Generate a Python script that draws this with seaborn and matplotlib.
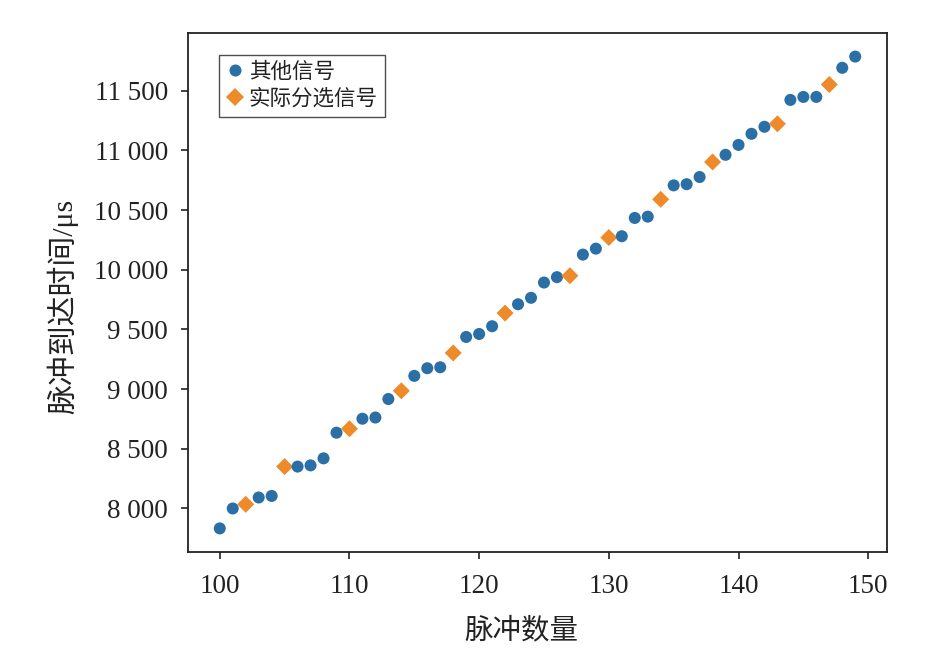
import matplotlib
matplotlib.use("Agg")
import matplotlib.pyplot as plt
import seaborn as sns
import pandas as pd
from matplotlib.ticker import FuncFormatter, MultipleLocator

pulse_no = list(range(100, 150))
arrival_us = [7833, 8000, 8035, 8092, 8105, 8351, 8351, 8361, 8420, 8635,
              8668, 8752, 8762, 8917, 8986, 9111, 9175, 9183, 9303, 9437,
              9462, 9527, 9637, 9711, 9765, 9893, 9938, 9950, 10127, 10177,
              10270, 10281, 10434, 10445, 10590, 10707, 10717, 10777, 10903, 10963,
              11046, 11139, 11198, 11223, 11423, 11448, 11448, 11552, 11692, 11786]
sorted_idx = [102, 105, 110, 114, 118, 122, 127, 130, 134, 138, 143, 147]
cat_other = "其他信号"
cat_sel = "实际分选信号"
categories = [cat_sel if n in sorted_idx else cat_other for n in pulse_no]

df = pd.DataFrame({"x": pulse_no, "y": arrival_us, "cat": categories})

sns.set_style("ticks")
plt.rcParams["font.family"] = ["Liberation Serif", "Noto Sans CJK SC"]
plt.rcParams["axes.unicode_minus"] = False

fig = plt.figure(figsize=(9.41, 6.65), dpi=100)
ax = fig.add_axes([188/941, 1-552/665, (887-188)/941, (552-33)/665])

palette = {cat_other: "#2a6fa6", cat_sel: "#ee8a2a"}
markers = {cat_other: "o", cat_sel: "D"}
sns.scatterplot(data=df, x="x", y="y", hue="cat", style="cat",
                hue_order=[cat_other, cat_sel], style_order=[cat_other, cat_sel],
                palette=palette, markers=markers, s=75, linewidth=0, ax=ax)

ax.xaxis.set_major_locator(MultipleLocator(10))
ax.yaxis.set_major_locator(MultipleLocator(500))
ax.yaxis.set_major_formatter(FuncFormatter(lambda v, p: f"{v:,.0f}".replace(",", " ")))
ax.tick_params(axis="both", labelsize=19.5, length=5, width=1.2, color="#222222",
               labelcolor="#222222")
ax.tick_params(axis="x", pad=11)
ax.tick_params(axis="y", pad=9.5)
for sp in ax.spines.values():
    sp.set_visible(True)
    sp.set_color("#222222")
    sp.set_linewidth(1.3)

ax.set_xlabel("脉冲数量", fontsize=20.5, color="#222222")
ax.set_ylabel("脉冲到达时间/μs", fontsize=21.5, color="#222222")
ax.xaxis.set_label_coords(0.477, -0.127)
ax.yaxis.set_label_coords(-0.157, 0.474)

leg = ax.legend(loc="upper left", bbox_to_anchor=(0.044, 0.958), borderaxespad=0,
                fontsize=15.5, frameon=True, fancybox=False, handletextpad=0.25,
                handlelength=0.8, borderpad=0.35, labelspacing=0.3, markerscale=1.0)
leg.get_frame().set_edgecolor("#222222")
leg.get_frame().set_linewidth(1.0)
for t in leg.get_texts():
    t.set_color("#222222")

fig.savefig("out.png", dpi=100)
